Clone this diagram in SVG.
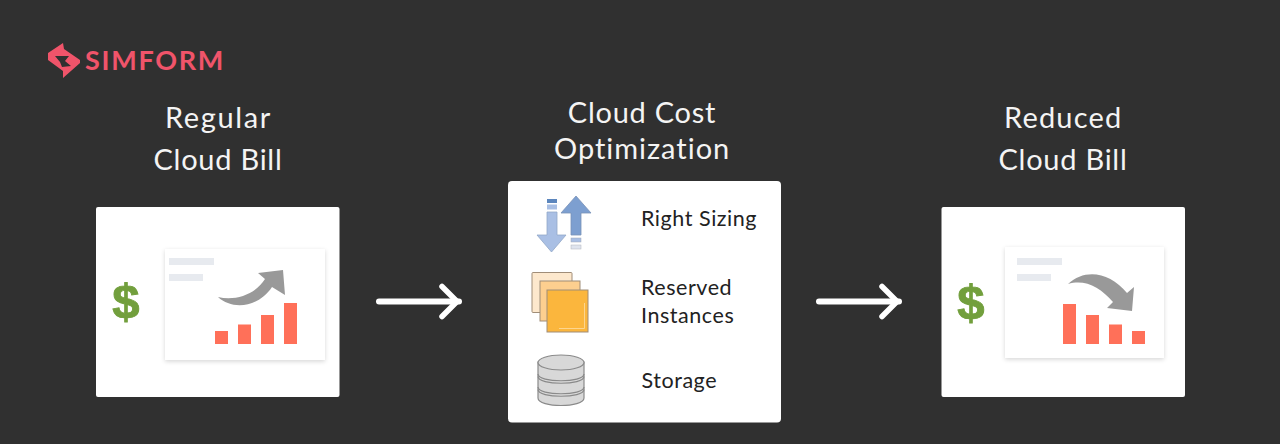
<svg xmlns="http://www.w3.org/2000/svg" width="1280" height="444" viewBox="0 0 1280 444">
<defs>
<filter id="sh" x="-10%" y="-10%" width="120%" height="120%"><feDropShadow dx="0" dy="1.5" stdDeviation="2" flood-color="#000" flood-opacity="0.16"/></filter>
<marker id="ah" markerUnits="userSpaceOnUse" markerWidth="30" markerHeight="40" refX="23" refY="17" orient="auto" overflow="visible"><path d="M6 2 L21 17 L6 32" fill="none" stroke="#fff" stroke-width="5.500" stroke-linecap="round" stroke-linejoin="round"/></marker>
</defs>
<style>
.h{font-family:Lato,"Noto Sans",sans-serif;font-size:29px;fill:#f4f4f4;text-anchor:middle;letter-spacing:.75px}
.l{font-family:Lato,"Noto Sans",sans-serif;font-size:21.500px;fill:#222;letter-spacing:.55px}
.d{font-family:"Liberation Sans",Arial,sans-serif;font-weight:700;font-size:49px;fill:#729f3d;stroke:#729f3d;stroke-width:.9;text-anchor:middle}
.box{fill:#fff}
.card{fill:#fff;filter:url(#sh)}
.bar{fill:#ff7059}
.ln{fill:#e7eaef}
.conn{stroke:#fff;stroke-width:6;stroke-linecap:round;fill:none;marker-end:url(#ah)}
.disk{fill:#d8d8d8;stroke:#8a8a8a;stroke-width:1.200}
</style>
<rect width="1280" height="444" fill="#303030"/>
<g id="logo">
<path fill-rule="evenodd" d="M48 53 L63 43 L64 49 L80 60 L80 63 L63 78 L63 71 L48 60 Z M55 56 L69 56 L65 61 L71 66 L62 67 L60 62 Z" fill="#f0546a"/>
<text x="85" y="70" font-family="Lato,sans-serif" font-weight="700" font-size="27" letter-spacing="1.700" fill="#f0546a">SIMFORM</text>
</g>
<g id="regular-title"><text class="h" x="218" y="127.500" textLength="106">Regular</text><text class="h" x="218" y="169.500">Cloud Bill</text></g>
<g id="regular-bill">
<rect class="box" x="96" y="207" width="243.500" height="190" rx="2"/>
<text class="d" x="126" y="318">$</text>
<rect class="card" x="165" y="249" width="160" height="111"/>
<rect class="ln" x="169" y="258" width="45" height="7"/><rect class="ln" x="169" y="274" width="34" height="7"/>
<path d="M218 297 C235 301 255 295 265 279 L258 273 L283 270 L285 295 L272 287 C258 308 232 310 218 297 Z" fill="#999"/>
<rect class="bar" x="215" y="331" width="13" height="13"/><rect class="bar" x="238" y="324.500" width="13" height="19.500"/><rect class="bar" x="261" y="315" width="13" height="29"/><rect class="bar" x="284" y="303" width="13" height="41"/>
</g>
<g id="optimization-title"><text class="h" x="642" y="122.500">Cloud Cost</text><text class="h" x="642" y="158.500" textLength="176">Optimization</text></g>
<g id="optimization">
<rect class="box" x="508" y="181" width="273" height="241.500" rx="4"/>
<g id="right-sizing">
<path d="M547 212 H557 V235 H566 L551.500 252 L537 235 H547 Z" fill="#a9bfe4" stroke="#93a8c8" stroke-width=".8"/>
<rect x="547" y="199" width="10" height="4" fill="#5c86bd"/><rect x="547" y="204.500" width="10" height="5" fill="#a9bfe4"/>
<path d="M576 196 L591 213 H581 V235 H571 V213 H561 Z" fill="#7d9fd0" stroke="#7a92b8" stroke-width=".8"/>
<rect x="571" y="238" width="10" height="4" fill="#a9bfe4" stroke="#a0a8b8" stroke-width=".5"/><rect x="571" y="245" width="10" height="4" fill="#dfe4ee" stroke="#b0b4bc" stroke-width=".5"/>
<text class="l" x="641" y="226">Right Sizing</text>
</g>
<g id="reserved-instances">
<g stroke="#a08d78" stroke-width="1">
<rect x="532" y="272.500" width="40" height="40" rx="1" fill="#fde8cd"/>
<rect x="540" y="281" width="40" height="40" fill="#fdcf8f"/>
<rect x="547" y="290" width="41" height="42" fill="#fbb63d"/>
</g>
<path d="M559 328.500 H584.500 V303" fill="none" stroke="#fdd58e" stroke-width="1"/>
<text class="l" x="641" y="295">Reserved</text><text class="l" x="641" y="323">Instances</text>
</g>
<g id="storage">
<path class="disk" d="M538 362 V398 C538 408 584 408 584 398 V362 Z"/>
<path d="M538 374 C538 383 584 383 584 374 M538 376.500 C538 385.500 584 385.500 584 376.500 M538 387 C538 396 584 396 584 387 M538 389.500 C538 398.500 584 398.500 584 389.500" fill="none" stroke="#8a8a8a" stroke-width="1.200"/>
<ellipse class="disk" cx="561" cy="362.500" rx="23" ry="7.500"/>
<text class="l" x="641.500" y="388">Storage</text>
</g>
</g>
<g id="reduced-title"><text class="h" x="1063" y="127.500" textLength="118">Reduced</text><text class="h" x="1063" y="169.500">Cloud Bill</text></g>
<g id="reduced-bill">
<rect class="box" x="941.500" y="207" width="243.500" height="190" rx="2"/>
<text class="d" x="971" y="319">$</text>
<rect class="card" x="1005" y="247" width="159" height="111"/>
<rect class="ln" x="1017" y="258" width="45" height="7"/><rect class="ln" x="1017" y="274" width="34" height="7"/>
<path d="M1068 284 C1085 268 1110 272 1127 293 L1134 287 L1132 311 L1107 308 L1113 302 C1100 287 1085 279 1068 284 Z" fill="#999"/>
<rect class="bar" x="1063" y="304" width="13" height="40"/><rect class="bar" x="1086" y="315" width="13" height="29"/><rect class="bar" x="1109" y="324.500" width="13" height="19.500"/><rect class="bar" x="1132" y="331" width="13" height="13"/>
</g>
<g id="connectors">
<path class="conn" d="M379 301.500 H459"/>
<path class="conn" d="M819 301.500 H899"/>
</g>
</svg>
